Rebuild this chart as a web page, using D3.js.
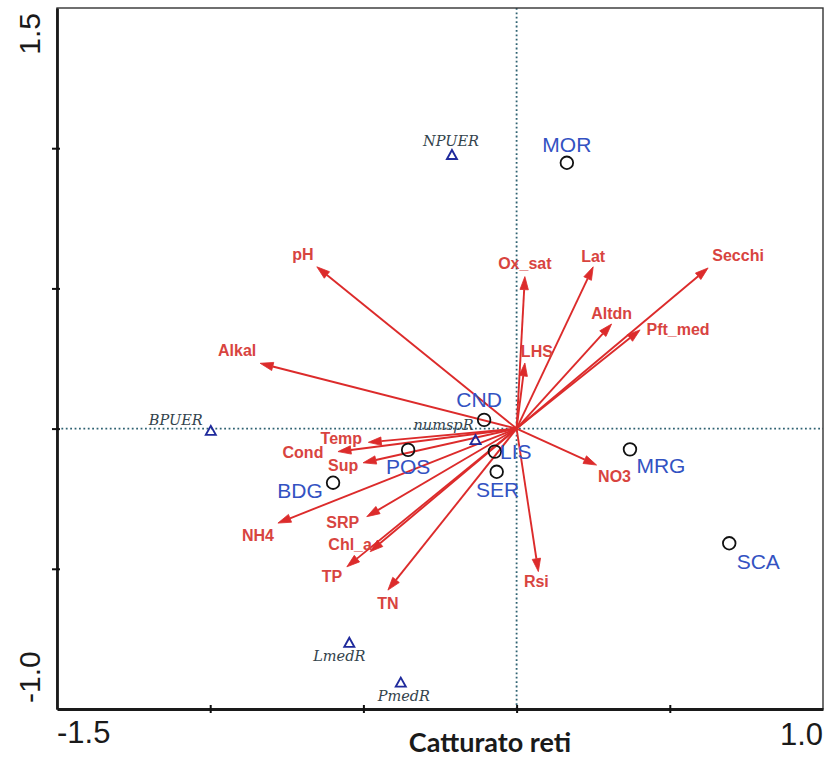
<!DOCTYPE html>
<html>
<head>
<meta charset="utf-8">
<script src="https://cdn.jsdelivr.net/npm/d3@7/dist/d3.min.js"></script>
<style>
  html, body { margin: 0; padding: 0; background: #fff; }
  svg { display: block; }
</style>
</head>
<body>
<svg id="chart" width="825" height="757"></svg>
<script>
// ---------- data ----------
const xDomain = [-1.5, 1.0];
const yDomain = [-1.0, 1.5];
const xTickLabels = ["-1.5", "1.0"];
const yTickLabels = ["-1.0", "1.5"];
const xTicks = [-1.0, -0.5, 0, 0.5];
const yTicks = [-0.5, 0, 0.5, 1.0];
const axisTitle = "Catturato reti";

// environmental variables (arrows)
const envNames = ["pH", "Alkal", "Ox_sat", "Lat", "Secchi", "Altdn", "Pft_med", "LHS", "NO3", "Rsi",
                  "Temp", "Cond", "Sup", "NH4", "SRP", "Chl_a", "TP", "TN"];
const envX = [-0.652, -0.837, 0.027, 0.250, 0.625, 0.310, 0.403, 0.027, 0.261, 0.071,
              -0.484, -0.583, -0.501, -0.779, -0.489, -0.478, -0.554, -0.420];
const envY = [0.577, 0.233, 0.542, 0.577, 0.573, 0.373, 0.352, 0.234, -0.130, -0.510,
              -0.049, -0.082, -0.122, -0.337, -0.314, -0.439, -0.493, -0.576];

// sites (circles)
const siteNames = ["MOR", "CND", "POS", "LIS", "SER", "BDG", "MRG", "SCA"];
const siteX = [0.164, -0.106, -0.354, -0.071, -0.065, -0.599, 0.370, 0.694];
const siteY = [0.948, 0.031, -0.076, -0.082, -0.154, -0.193, -0.074, -0.409];

// response variables (triangles)
const specNames = ["NPUER", "BPUER", "numspR", "LmedR", "PmedR"];
const specX = [-0.211, -0.998, -0.134, -0.546, -0.378];
const specY = [0.976, -0.008, -0.041, -0.764, -0.906];

// ---------- label offsets (px, styling only) ----------
const envLabelOff = {
  pH: [-14, -12], Alkal: [-23, -13], Ox_sat: [0, -13], Lat: [0, -10], Secchi: [30, -12],
  Altdn: [0, -11], Pft_med: [38, 0], LHS: [12, -11], NO3: [18, 11], Rsi: [-2, 10],
  Temp: [-27, -4], Cond: [-35, 1], Sup: [-20, 3], NH4: [-20, 12], SRP: [-24, 6],
  Chl_a: [-20, -7], TP: [-15, 10], TN: [0, 13]
};
const siteLabelOff = {
  MOR: [0, -18], CND: [-5, -20], POS: [0, 17], LIS: [21, 0], SER: [1, 18],
  BDG: [-33, 8], MRG: [31, 16], SCA: [29, 18]
};
const specLabelOff = {
  NPUER: [-1, -14], BPUER: [-35, -11], numspR: [-32, -15], LmedR: [-10, 13], PmedR: [3, 13]
};

// ---------- drawing ----------
const svg = d3.select("#chart");
const L = 57, R = 823, T = 8, B = 709;
const x = d3.scaleLinear().domain(xDomain).range([L, R]);
const y = d3.scaleLinear().domain(yDomain).range([B, T]);

const RED = "#dc2b2b", RED_TXT = "#d8443f", BLUE = "#3352c2", NAVY = "#1f2a9c", DOT = "#2f6272";

// dotted zero lines
svg.append("line").attr("x1", x(0)).attr("x2", x(0)).attr("y1", T).attr("y2", B)
  .attr("stroke", DOT).attr("stroke-width", 1.8).attr("stroke-dasharray", "1.8,2.6");
svg.append("line").attr("x1", L).attr("x2", R).attr("y1", y(0)).attr("y2", y(0))
  .attr("stroke", DOT).attr("stroke-width", 1.8).attr("stroke-dasharray", "1.8,2.6");

// frame
svg.append("rect").attr("x", L).attr("y", T).attr("width", R - L).attr("height", B - T)
  .attr("fill", "none").attr("stroke", "#333").attr("stroke-width", 1.4);

// axes (ticks only)
const gx = svg.append("g").attr("transform", `translate(0,${B})`)
  .call(d3.axisBottom(x).tickValues(xTicks).tickSize(5).tickSizeOuter(0).tickFormat(""));
gx.selectAll(".tick line").attr("y1", -4).attr("y2", 4).attr("stroke", "#111").attr("stroke-width", 2);
gx.select(".domain").attr("stroke", "#1a1a1a").attr("stroke-width", 2.8);
const gy = svg.append("g").attr("transform", `translate(${L},0)`)
  .call(d3.axisLeft(y).tickValues(yTicks).tickSize(5).tickSizeOuter(0).tickFormat(""));
gy.selectAll(".tick line").attr("x1", -5).attr("x2", 3).attr("stroke", "#111").attr("stroke-width", 2);
gy.select(".domain").attr("stroke", "#1a1a1a").attr("stroke-width", 2.8);

// axis extreme labels
const tickFont = "Liberation Sans, Arial, sans-serif";
svg.append("text").attr("x", x(xDomain[0])).attr("y", 743).attr("text-anchor", "start")
  .attr("font-family", tickFont).attr("font-size", 31).attr("fill", "#1a1a1a").text(xTickLabels[0]);
svg.append("text").attr("x", x(xDomain[1])).attr("y", 745).attr("text-anchor", "end")
  .attr("font-family", tickFont).attr("font-size", 31).attr("fill", "#1a1a1a").text(xTickLabels[1]);
svg.append("text").attr("transform", `translate(40,${y(yDomain[0]) - 6}) rotate(-90)`).attr("text-anchor", "start")
  .attr("font-family", tickFont).attr("font-size", 30).attr("fill", "#1a1a1a").text(yTickLabels[0]);
svg.append("text").attr("transform", `translate(40,${y(yDomain[1]) + 5}) rotate(-90)`).attr("text-anchor", "end")
  .attr("font-family", tickFont).attr("font-size", 30).attr("fill", "#1a1a1a").text(yTickLabels[1]);

// axis title
svg.append("text").attr("x", 490).attr("y", 752).attr("text-anchor", "middle")
  .attr("font-family", "Lato, 'Open Sans', sans-serif").attr("font-weight", "bold")
  .attr("font-size", 27).attr("fill", "#1a1a1a").text(axisTitle);

// arrows
const env = envNames.map((n, i) => ({ n, vx: envX[i], vy: envY[i] }));
const ox = x(0), oy = y(0);
const HL = 13, HW = 4.2;
const gArrows = svg.append("g");
env.forEach(d => {
  const ex = x(d.vx), ey = y(d.vy);
  const dx = ex - ox, dy = ey - oy, len = Math.hypot(dx, dy);
  const ux = dx / len, uy = dy / len;
  const bx = ex - ux * HL, by = ey - uy * HL;
  gArrows.append("line").attr("x1", ox).attr("y1", oy).attr("x2", bx).attr("y2", by)
    .attr("stroke", RED).attr("stroke-width", 1.9);
  gArrows.append("path")
    .attr("d", `M${ex},${ey}L${bx - uy * HW},${by + ux * HW}L${bx + uy * HW},${by - ux * HW}Z`)
    .attr("fill", RED).attr("stroke", RED).attr("stroke-width", 0.8);
});
svg.append("g").selectAll("text").data(env).join("text")
  .attr("x", d => x(d.vx) + envLabelOff[d.n][0])
  .attr("y", d => y(d.vy) + envLabelOff[d.n][1])
  .attr("text-anchor", "middle").attr("dominant-baseline", "central")
  .attr("font-family", "Liberation Sans, Arial, sans-serif").attr("font-weight", "bold")
  .attr("font-size", 16).attr("fill", RED_TXT).text(d => d.n);

// sites
const sites = siteNames.map((n, i) => ({ n, vx: siteX[i], vy: siteY[i] }));
svg.append("g").selectAll("circle").data(sites).join("circle")
  .attr("cx", d => x(d.vx)).attr("cy", d => y(d.vy)).attr("r", 6.3)
  .attr("fill", "none").attr("stroke", "#111").attr("stroke-width", 1.8);
svg.append("g").selectAll("text").data(sites).join("text")
  .attr("x", d => x(d.vx) + siteLabelOff[d.n][0])
  .attr("y", d => y(d.vy) + siteLabelOff[d.n][1])
  .attr("text-anchor", "middle").attr("dominant-baseline", "central")
  .attr("font-family", "Liberation Sans, Arial, sans-serif")
  .attr("font-size", 21).attr("fill", BLUE).text(d => d.n);

// species / responses
const specs = specNames.map((n, i) => ({ n, vx: specX[i], vy: specY[i] }));
svg.append("g").selectAll("path").data(specs).join("path")
  .attr("d", d => { const cx = x(d.vx), cy = y(d.vy);
    return `M${cx},${cy - 5}L${cx + 5},${cy + 4}L${cx - 5},${cy + 4}Z`; })
  .attr("fill", "none").attr("stroke", NAVY).attr("stroke-width", 1.9);
svg.append("g").selectAll("text").data(specs).join("text")
  .attr("x", d => x(d.vx) + specLabelOff[d.n][0])
  .attr("y", d => y(d.vy) + specLabelOff[d.n][1])
  .attr("text-anchor", "middle").attr("dominant-baseline", "central")
  .attr("font-family", "'DejaVu Serif', 'Liberation Serif', serif").attr("font-style", "italic")
  .attr("font-size", 14.5).attr("fill", "#33434c").text(d => d.n);
</script>
</body>
</html>
